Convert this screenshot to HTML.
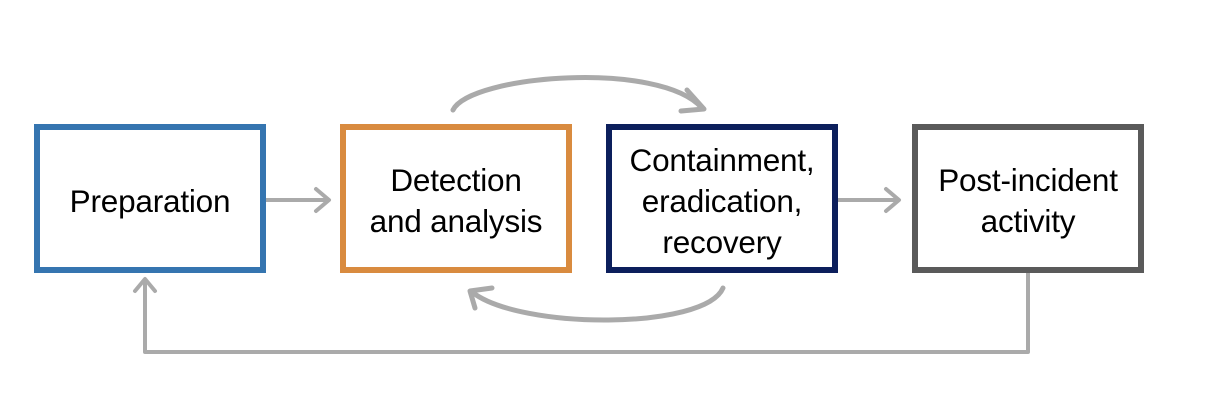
<!DOCTYPE html>
<html><head><style>
html,body{margin:0;padding:0;background:#fff;width:1216px;height:408px;overflow:hidden}
.b{position:absolute;box-sizing:border-box;border:6px solid;background:#fff;display:flex;align-items:center;justify-content:center;text-align:center;font-family:"Liberation Sans",sans-serif;font-size:31.5px;line-height:41px;color:#000;letter-spacing:-0.2px;padding-top:5px}
</style></head><body>
<svg width="1216" height="408" style="position:absolute;left:0;top:0">
<g fill="none" stroke="#aaaaaa" stroke-width="4" stroke-linecap="round" stroke-linejoin="round">
<path d="M266 200 H328"/><path d="M316 189 L329 200 L316 211"/>
<path d="M838 200 H898"/><path d="M886 189 L899 200 L886 211"/>
<path d="M1028 272 V352 H145 V280"/><path d="M135 291 L145 279 L155 291"/>
</g>
<g fill="none" stroke="#aaaaaa" stroke-width="5" stroke-linecap="round" stroke-linejoin="round">
<path d="M453 110 C470 75 660 60 702 108"/><path d="M687 90 L704 109 L681 111"/>
<path d="M723 288 C705 330 520 330 472 292"/><path d="M475 308 L470 291 L492 288"/>
</g>
</svg>
<div class="b" style="left:34px;top:124px;width:232px;height:149px;border-color:#3575b0">Preparation</div>
<div class="b" style="left:340px;top:124px;width:232px;height:149px;border-color:#d98b3f">Detection<br>and analysis</div>
<div class="b" style="left:606px;top:124px;width:232px;height:149px;border-color:#0c1f5c">Containment,<br>eradication,<br>recovery</div>
<div class="b" style="left:912px;top:124px;width:232px;height:149px;border-color:#5a5a5a">Post-incident<br>activity</div>
</body></html>
